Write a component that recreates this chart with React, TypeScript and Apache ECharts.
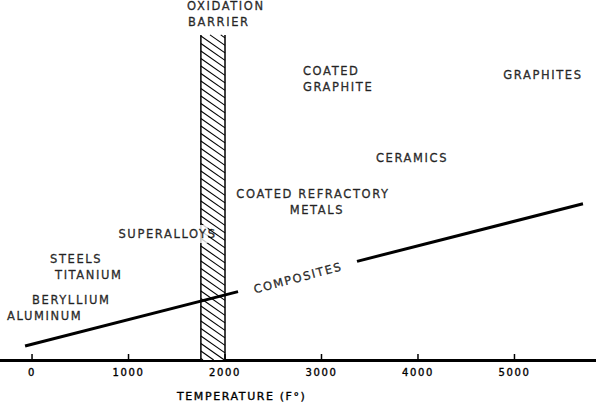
import React, { useEffect, useRef } from "react";
import * as echarts from "echarts";

// Temperature axis (°F)
const tempMin = -332;
const tempMax = 5845;
const tempTicks = [0, 1000, 2000, 3000, 4000, 5000];

// Oxidation barrier band: [start temp, end temp, top level]
const oxidationBarrier = [[1750, 2000, 90.3]];

// Composites capability line (two segments, broken for the label)
const compositesLower = [[-72, 3.9], [2135, 19.0]];
const compositesUpper = [[3368, 27.4], [5710, 43.4]];

// Material region labels: name, temperature, level
const materialNames = [
  "OXIDATION", "BARRIER", "COATED", "GRAPHITE", "GRAPHITES", "CERAMICS",
  "COATED REFRACTORY", "METALS", "SUPERALLOYS", "STEELS", "TITANIUM",
  "BERYLLIUM", "ALUMINUM", "COMPOSITES",
];
const materialTemps = [1606, 1617, 2808, 2808, 5295, 3938, 2912, 2953, 1404, 187, 238, 0, -259, 2756];
const materialLevels = [98.3, 94.0, 80.3, 75.8, 79.2, 56.0, 46.0, 41.7, 35.0, 28.1, 23.6, 16.7, 12.2, 22.8];
const materialAnchor = ["left", "left", "left", "left", "center", "center", "center", "center", "center", "left", "left", "left", "left", "center"];

const FONT = "DejaVu Sans";
const INK = "#000000";
const BOLDEN = { textBorderColor: "#000", textBorderWidth: 0.35 };

export default function App() {
  const ref = useRef<HTMLDivElement>(null);

  useEffect(() => {
    if (!ref.current) return;
    const chart = echarts.init(ref.current, undefined, { renderer: "svg" });

    const labelData = materialNames.map((name, i) => {
      const left = materialAnchor[i] === "left";
      const isComposite = name === "COMPOSITES";
      const overBand = name === "SUPERALLOYS";
      return {
        name,
        value: [materialTemps[i], materialLevels[i]],
        label: {
          show: true,
          formatter: "{b}",
          position: left ? "right" : "inside",
          distance: 0,
          align: left ? "left" : "center",
          verticalAlign: "middle",
          rotate: isComposite ? 15 : 0,
          fontFamily: FONT,
          fontSize: 11.5,
          color: INK,
          backgroundColor: overBand ? "#fff" : "transparent",
          padding: overBand ? [3, 0, 3, 0] : 0,
          ...BOLDEN,
        },
      };
    });

    chart.setOption({
      animation: false,
      backgroundColor: "#ffffff",
      title: {
        text: "TEMPERATURE (F°)",
        left: 177,
        top: 391,
        padding: 0,
        textStyle: { fontFamily: FONT, fontSize: 11, fontWeight: "normal", color: INK, ...BOLDEN },
      },
      grid: { left: 0, right: 0, top: 0, bottom: 43 },
      xAxis: {
        type: "value",
        min: tempMin,
        max: tempMax,
        splitLine: { show: false },
        axisLine: { show: true, lineStyle: { color: "#000", width: 3 } },
        axisTick: { show: false },
        axisLabel: {
          show: true,
          customValues: tempTicks,
          formatter: (v: number) => String(v),
          margin: 7,
          fontFamily: FONT,
          fontSize: 10,
          color: INK,
          ...BOLDEN,
        },
      },
      yAxis: {
        type: "value",
        min: 0,
        max: 100,
        show: false,
        splitLine: { show: false },
      },
      series: [
        {
          type: "custom",
          z: 1,
          silent: true,
          data: oxidationBarrier,
          encode: { x: [0, 1], y: 2 },
          renderItem: (_params: any, api: any) => {
            const p0 = api.coord([api.value(0), api.value(2)]);
            const p1 = api.coord([api.value(1), 0]);
            const x0 = p0[0], y0 = p0[1], x1 = p1[0], y1 = p1[1];
            const w = x1 - x0;
            const k = 0.7;
            const gap = 7.5;
            const children: any[] = [
              { type: "rect", shape: { x: x0, y: y0, width: w, height: y1 - y0 }, style: { fill: "#fff" } },
            ];
            for (let c = y0 - k * w + 3; c < y1; c += gap) {
              let sx = x0, sy = c, ex = x1, ey = c + k * w;
              if (sy < y0) { sx = x0 + (y0 - c) / k; sy = y0; }
              if (ey > y1) { ex = x0 + (y1 - c) / k; ey = y1; }
              if (ex <= sx) continue;
              children.push({
                type: "line",
                shape: { x1: sx, y1: sy, x2: ex, y2: ey },
                style: { stroke: INK, lineWidth: 1.1 },
              });
            }
            children.push({ type: "line", shape: { x1: x0, y1: y0, x2: x0, y2: y1 }, style: { stroke: INK, lineWidth: 1.5 } });
            children.push({ type: "line", shape: { x1: x1, y1: y0, x2: x1, y2: y1 }, style: { stroke: INK, lineWidth: 1.5 } });
            return { type: "group", children };
          },
        },
        {
          type: "line",
          z: 3,
          silent: true,
          data: compositesLower,
          symbol: "none",
          lineStyle: { color: "#000", width: 3 },
        },
        {
          type: "line",
          z: 3,
          silent: true,
          data: compositesUpper,
          symbol: "none",
          lineStyle: { color: "#000", width: 3 },
        },
        {
          // tick marks on the temperature axis
          type: "custom",
          z: 5,
          silent: true,
          clip: false,
          data: tempTicks.map((t) => [t, 0]),
          encode: { x: 0, y: 1 },
          renderItem: (_params: any, api: any) => {
            const p = api.coord([api.value(0), api.value(1)]);
            return {
              type: "line",
              shape: { x1: p[0], y1: p[1] - 6, x2: p[0], y2: p[1] + 1 },
              style: { stroke: "#000", lineWidth: 1.5 },
            };
          },
        },
        {
          type: "scatter",
          z: 4,
          silent: true,
          symbolSize: 0.01,
          itemStyle: { color: "transparent" },
          data: labelData,
        },
      ],
    });

    return () => chart.dispose();
  }, []);

  return (
    <>
      <style>{"#hrchart svg text { letter-spacing: 1.6px; }"}</style>
      <div
        id="hrchart"
        ref={ref}
        style={{ position: "fixed", left: 0, top: 0, width: 596, height: 403, background: "#fff" }}
      />
    </>
  );
}
